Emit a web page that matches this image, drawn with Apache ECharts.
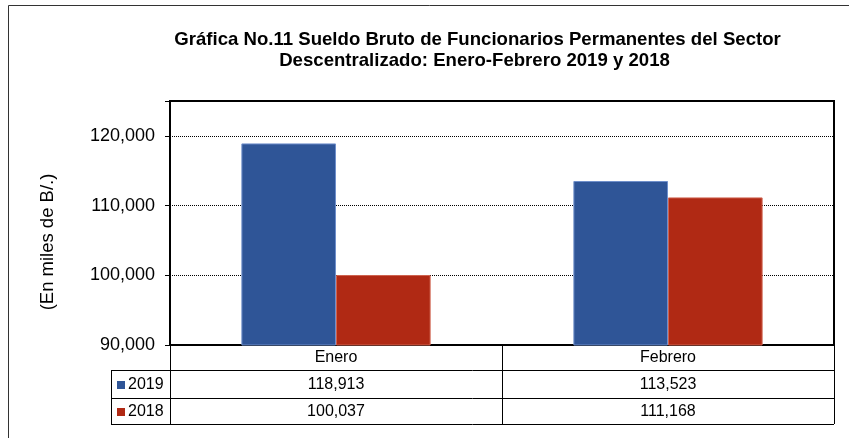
<!DOCTYPE html>
<html>
<head>
<meta charset="utf-8">
<script src="https://cdn.jsdelivr.net/npm/echarts@6/dist/echarts.min.js"></script>
<style>
  html, body { margin: 0; padding: 0; background: #fff; }
  #chart { width: 849px; height: 438px; }
</style>
</head>
<body>
<div id="chart"></div>
<script>
const months = ['Enero', 'Febrero'];
const years = ['2019', '2018'];
const sueldo2019 = [118913, 113523];
const sueldo2018 = [100037, 111168];
const yTicks = [90000, 100000, 110000, 120000];
const titleLines = [
    'Gráfica No.11 Sueldo Bruto de Funcionarios Permanentes del Sector',
    'Descentralizado: Enero-Febrero 2019 y 2018'
];

const colors = ['#2F5597', '#B02914'];
const edgeColors = ['#6F8FCB', '#D06450'];
const font = '"Liberation Sans", Arial, sans-serif';
const fmt = v => v.toLocaleString('en-US');

// layout of the plot and the data table under it
const gridLeft = 170, gridRight = 834, gridTop = 101, gridBottom = 345;
const tableLeft = 111;
const rowLines = [345, 370, 398, 424];

const chart = echarts.init(document.getElementById('chart'));

const option = {
    animation: false,
    grid: {
        left: gridLeft, right: 849 - gridRight, top: gridTop, bottom: 438 - gridBottom,
        show: true, borderColor: '#000', borderWidth: 2
    },
    xAxis: {
        type: 'category',
        data: months,
        axisLine: { lineStyle: { color: '#000', width: 1 } },
        axisTick: { show: false },
        axisLabel: { color: '#000', fontFamily: font, fontSize: 16, margin: 5 }
    },
    yAxis: {
        type: 'value',
        min: yTicks[0],
        max: 125000,
        interval: 10000,
        axisLine: { show: true, lineStyle: { color: '#000' } },
        axisTick: { show: true, length: 5, lineStyle: { color: '#000' } },
        axisLabel: {
            color: '#000', fontFamily: font, fontSize: 18, margin: 15,
            formatter: v => yTicks.includes(v) ? fmt(v) : ''
        },
        splitLine: { lineStyle: { color: '#000', type: 'dotted', width: 1 } }
    },
    series: [
        {
            name: years[0],
            type: 'bar',
            data: sueldo2019,
            barGap: '0%',
            barCategoryGap: '43%',
            itemStyle: { color: colors[0], borderColor: edgeColors[0], borderWidth: 1 }
        },
        {
            name: years[1],
            type: 'bar',
            data: sueldo2018,
            itemStyle: { color: colors[1], borderColor: edgeColors[1], borderWidth: 1 }
        }
    ]
};

chart.setOption(option);

// title, axis name, outer frame and the data table
function buildGraphics() {
    const els = [];
    const line = (x1, y1, x2, y2, color) => els.push({
        type: 'line', silent: true,
        shape: { x1, y1, x2, y2 },
        style: { stroke: color || '#000', lineWidth: 1 }
    });

    // outer frame
    els.push({
        type: 'rect', shape: { x: 8.5, y: 5.5, width: 900, height: 500 },
        style: { fill: null, stroke: '#333', lineWidth: 1 }, z: -1
    });

    [[477.5, 39.5], [474.5, 60.5]].forEach(([x, y], i) => els.push({
        type: 'text', x, y,
        style: {
            text: titleLines[i], font: 'bold 18.6px ' + font, fill: '#000',
            align: 'center', verticalAlign: 'middle'
        }
    }));

    els.push({
        type: 'text', x: 48, y: 242, rotation: Math.PI / 2,
        style: {
            text: '(En miles de B/.)', font: '18.5px ' + font, fill: '#000',
            align: 'center', verticalAlign: 'middle'
        }
    });

    const centers = months.map(m => chart.convertToPixel({ xAxisIndex: 0 }, m));
    const bounds = [gridLeft, (centers[0] + centers[1]) / 2, gridRight];

    // table rules
    for (let i = 1; i < rowLines.length; i++) {
        line(tableLeft, rowLines[i] + 0.5, gridRight, rowLines[i] + 0.5);
    }
    line(tableLeft + 0.5, rowLines[1], tableLeft + 0.5, rowLines[3]);
    bounds.forEach(b => line(Math.round(b) + 0.5, rowLines[0], Math.round(b) + 0.5, rowLines[3]));

    const seriesData = [sueldo2019, sueldo2018];
    years.forEach((yr, r) => {
        const cy = (rowLines[r + 1] + rowLines[r + 2]) / 2 + 1;
        els.push({ type: 'rect', shape: { x: 117, y: cy - 4, width: 8, height: 8 }, style: { fill: colors[r] } });
        els.push({
            type: 'text', x: 128, y: cy,
            style: { text: yr, font: '16px ' + font, fill: '#000', align: 'left', verticalAlign: 'middle' }
        });
        seriesData[r].forEach((v, i) => {
            els.push({
                type: 'text', x: centers[i], y: cy,
                style: { text: fmt(v), font: '16px ' + font, fill: '#000', align: 'center', verticalAlign: 'middle' }
            });
        });
    });
    return els;
}

chart.setOption({ graphic: { elements: buildGraphics() } });
</script>
</body>
</html>
